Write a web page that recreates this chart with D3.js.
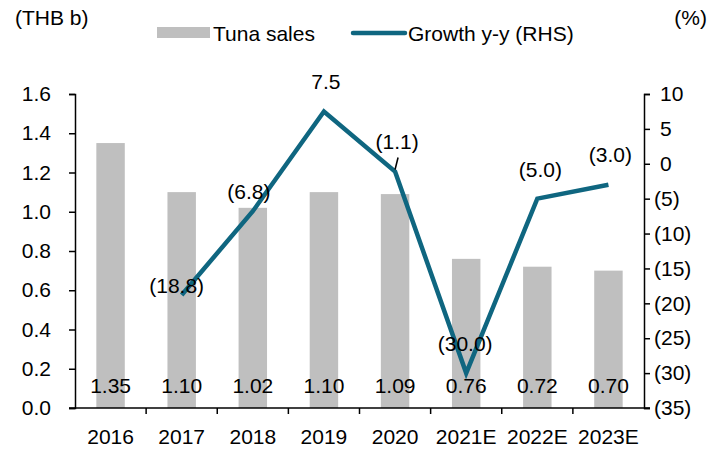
<!DOCTYPE html>
<html lang="en">
<head>
    <meta charset="UTF-8">
    <title>Tuna sales and growth</title>
    <script src="https://d3js.org/d3.v7.min.js"></script>
    <style>
        body { margin: 0; background: #fff; }
        text { font-family: "Liberation Sans", Arial, sans-serif; font-size: 21px; fill: #000; }
        .axis path, .axis line { stroke: #000; stroke-width: 1.5; }
    </style>
</head>
<body>
<svg width="719" height="450"></svg>
<script>
// data
const years = ["2016", "2017", "2018", "2019", "2020", "2021E", "2022E", "2023E"];
const tunaSales = [1.35, 1.10, 1.02, 1.10, 1.09, 0.76, 0.72, 0.70];
const growth = [null, -18.8, -6.8, 7.5, -1.1, -30.0, -5.0, -3.0];
const leftTicks = [0, 0.2, 0.4, 0.6, 0.8, 1.0, 1.2, 1.4, 1.6];
const rightTicks = [10, 5, 0, -5, -10, -15, -20, -25, -30, -35];

// where the growth labels sit relative to their point (px)
const growthLabelDx = [0, -5, -4, 2, 2, -1, 3, 2];
const growthLabelDy = [0, -9, -20, -30, -30, -30, -29, -30];

const svg = d3.select("svg");
const plotL = 75, plotR = 644, plotT = 94, plotB = 408;

const x = d3.scaleBand().domain(years).range([plotL, plotR]);
const yL = d3.scaleLinear().domain([0, 1.6]).range([plotB, plotT]);
const yR = d3.scaleLinear().domain([-35, 10]).range([plotB, plotT]);

const fmtPct = v => v < 0 ? "(" + d3.format(".0f")(-v) + ")" : d3.format(".0f")(v);
const fmtGrowth = v => v < 0 ? "(" + d3.format(".1f")(-v) + ")" : d3.format(".1f")(v);

// bars
const barW = x.bandwidth() * 0.4;
svg.append("g").selectAll("rect")
    .data(years)
    .enter().append("rect")
    .attr("x", (d, i) => x(d) + (x.bandwidth() - barW) / 2)
    .attr("y", (d, i) => yL(tunaSales[i]))
    .attr("width", barW)
    .attr("height", (d, i) => plotB - yL(tunaSales[i]))
    .attr("fill", "#bfbfbf");

// bar value labels
svg.append("g").selectAll("text")
    .data(years)
    .enter().append("text")
    .attr("x", d => x(d) + x.bandwidth() / 2)
    .attr("y", 393)
    .attr("text-anchor", "middle")
    .text((d, i) => d3.format(".2f")(tunaSales[i]));

// axes
const axL = svg.append("g").attr("class", "axis")
    .attr("transform", `translate(${plotL},0)`)
    .call(d3.axisLeft(yL).tickValues(leftTicks).tickFormat(d3.format(".1f")).tickSize(6).tickPadding(18));
const axR = svg.append("g").attr("class", "axis")
    .attr("transform", `translate(${plotR},0)`)
    .call(d3.axisRight(yR).tickValues(rightTicks).tickFormat(fmtPct).tickSize(6).tickPadding(10));
const axB = svg.append("g").attr("class", "axis")
    .attr("transform", `translate(0,${plotB})`)
    .call(d3.axisBottom(x).tickSize(0).tickPadding(21));
// category boundary ticks
axB.selectAll(".bound")
    .data(years.slice(1))
    .enter().append("line")
    .attr("x1", d => x(d)).attr("x2", d => x(d))
    .attr("y1", 0).attr("y2", 6)
    .attr("stroke", "#000").attr("stroke-width", 1.5);
axB.select(".domain").attr("d", `M${plotL - 6},0H${plotR + 6}`);
[axL, axR, axB].forEach(a => a.selectAll("text").style("font-size", "21px").attr("fill", "#000"));
axR.selectAll(".tick text").attr("x", d => d < 0 ? 10 : 16);

// growth line
const pts = years.map((d, i) => ({ year: d, v: growth[i], i: i })).filter(p => p.v !== null);
const line = d3.line()
    .x(p => x(p.year) + x.bandwidth() / 2)
    .y(p => yR(p.v));
svg.append("path")
    .datum(pts)
    .attr("d", line)
    .attr("fill", "none")
    .attr("stroke", "#0f6680")
    .attr("stroke-width", 4.5)
    .attr("stroke-linejoin", "miter");

// growth labels
svg.append("g").selectAll("text")
    .data(pts)
    .enter().append("text")
    .attr("x", p => x(p.year) + x.bandwidth() / 2 + growthLabelDx[p.i])
    .attr("y", p => yR(p.v) + growthLabelDy[p.i] + 7.5)
    .attr("text-anchor", "middle")
    .text(p => fmtGrowth(p.v));

// leader for (1.1)
const p20 = pts.find(p => p.year === "2020");
svg.append("line")
    .attr("x1", x("2020") + x.bandwidth() / 2 + 3).attr("y1", yR(p20.v) - 14)
    .attr("x2", x("2020") + x.bandwidth() / 2).attr("y2", yR(p20.v) - 2)
    .attr("stroke", "#000").attr("stroke-width", 1.5);

// axis titles
svg.append("text").attr("x", 15).attr("y", 25).text("(THB b)");
svg.append("text").attr("x", 707).attr("y", 25).attr("text-anchor", "end").text("(%)");

// legend
const lg = svg.append("g");
lg.append("rect").attr("x", 157).attr("y", 27).attr("width", 53).attr("height", 11).attr("fill", "#bfbfbf");
lg.append("text").attr("x", 213).attr("y", 41).text("Tuna sales");
lg.append("line").attr("x1", 353).attr("x2", 405).attr("y1", 33).attr("y2", 33)
    .attr("stroke", "#0f6680").attr("stroke-width", 4.5).attr("stroke-linecap", "round");
lg.append("text").attr("x", 408).attr("y", 41).text("Growth y-y (RHS)");
</script>
</body>
</html>
